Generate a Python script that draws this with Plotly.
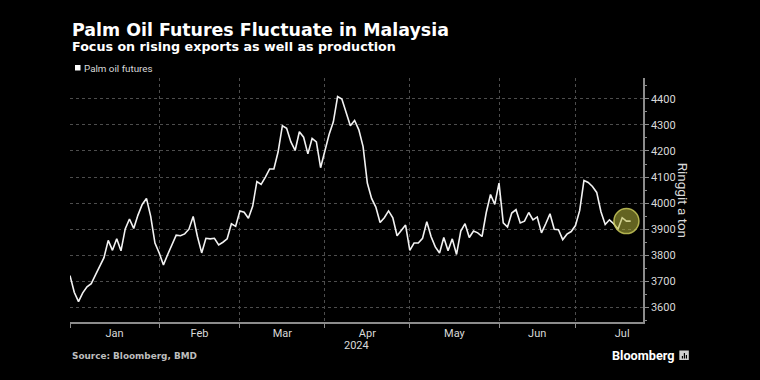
import plotly.graph_objects as go

# ---- data ----
prices = [3722,3658,3622,3656,3679,3691,3725,3757,3791,3857,
          3819,3863,3817,3901,3939,3903,3954,3995,4018,3949,
          3847,3809,3763,3803,3841,3877,3875,3882,3900,3949,
          3872,3809,3865,3863,3865,3840,3850,3863,3921,3911,
          3970,3965,3942,3988,4083,4072,4100,4131,4131,4197,
          4297,4287,4235,4202,4274,4253,4189,4248,4235,4136,
          4200,4263,4312,4409,4399,4345,4297,4317,4281,4217,
          4077,4018,3985,3926,3944,3970,3944,3875,3895,3916,
          3819,3847,3847,3865,3929,3872,3832,3809,3868,3817,
          3863,3803,3893,3921,3868,3893,3886,3872,3964,4033,
          3995,4077,3924,3908,3962,3975,3924,3931,3964,3936,
          3947,3886,3921,3959,3900,3898,3860,3881,3891,3914,
          3972,4087,4079,4064,4041,3967,3918,3936,3921,3900,
          3944,3931,3931]
trading_day = list(range(len(prices)))

# trading-day index at which each month starts (Jan..Aug 2024)
month_start = [0, 21, 40, 60, 80, 101, 119, 141]
month_labels = ["Jan", "Feb", "Mar", "Apr", "May", "Jun", "Jul"]
year_label = "2024"
y_ticks = [3600, 3700, 3800, 3900, 4000, 4100, 4200, 4300, 4400]
highlight_day = 131

label_pos = [(a + b) / 2 for a, b in zip(month_start[:-1], month_start[1:])]

BG = "#000000"
GRID = "#4d4d4d"
AXIS = "#8c8c8c"
TXT = "#d9d9d9"

fig = go.Figure()
fig.add_trace(go.Scatter(
    x=trading_day, y=prices, mode="lines",
    line=dict(color="#f2f2f2", width=1.6),
    name="Palm oil futures", showlegend=False, hoverinfo="skip"))
fig.add_trace(go.Scatter(
    x=[trading_day[highlight_day]], y=[prices[highlight_day]], mode="markers",
    marker=dict(size=25, color="rgba(180,180,60,0.55)",
                line=dict(color="rgba(200,200,90,0.85)", width=1.5)),
    showlegend=False, hoverinfo="skip"))

fig.update_layout(
    width=760, height=380,
    paper_bgcolor=BG, plot_bgcolor=BG,
    margin=dict(l=70, r=117, t=78, b=58),
    font=dict(family="Roboto", color=TXT, size=11),
    showlegend=False,
)

fig.update_xaxes(
    range=[0, 134.9],
    tickmode="array", tickvals=label_pos, ticktext=month_labels,
    ticks="", showgrid=False,
    tickfont=dict(family="Roboto", size=11, color=TXT),
    showline=True, linecolor=AXIS, linewidth=1.5,
    zeroline=False,
    minor=dict(tickmode="array", tickvals=month_start[:-1], ticks="outside",
               ticklen=4, tickcolor=AXIS, tickwidth=1,
               showgrid=True, gridcolor=GRID, griddash="dot", gridwidth=1),
)

fig.update_yaxes(
    range=[3544, 4480], side="right",
    tickmode="array", tickvals=y_ticks,
    ticks="outside", ticklen=4, tickcolor=AXIS, tickwidth=1,
    showgrid=True, gridcolor=GRID, griddash="dot", gridwidth=1,
    showline=True, linecolor=AXIS, linewidth=1.5,
    zeroline=False,
    tickfont=dict(family="Roboto", size=11, color=TXT),
    minor=dict(dtick=50, tick0=3550, ticks="outside", ticklen=2,
               tickcolor=AXIS, showgrid=False),
)

def py(ypx):
    return (322 - ypx) / 244.0

def px(xpx):
    return (xpx - 70) / 572.7

ann = [
    dict(text="Palm Oil Futures Fluctuate in Malaysia", x=0, y=py(29.5),
         font=dict(family="DejaVu Sans", size=17.4, color="#ffffff", weight="bold")),
    dict(text="Focus on rising exports as well as production", x=0, y=py(46.5),
         font=dict(family="DejaVu Sans", size=12.7, color="#ffffff", weight="bold")),
    dict(text="Palm oil futures", x=px(82), y=py(68),
         font=dict(family="Roboto", size=9.8, color=TXT)),
    dict(text="Source: Bloomberg, BMD", x=0, y=py(356),
         font=dict(family="DejaVu Sans", size=8.9, color="#bdbdbd", weight="bold")),
    dict(text="Bloomberg", x=px(610), y=py(355.5),
         font=dict(family="Roboto", size=12.7, color="#ffffff", weight="bold")),
]
annotations = []
for a in ann:
    a.update(xref="paper", yref="paper", xanchor="left", yanchor="middle",
             showarrow=False)
    annotations.append(a)
annotations.append(dict(text="Ringgit a ton", xref="paper", yref="paper",
                        x=px(683), y=0.5, textangle=90, showarrow=False,
                        xanchor="center", yanchor="middle",
                        font=dict(family="Roboto", size=13.5, color=TXT)))
annotations.append(dict(text=year_label, xref="x", yref="paper",
                        x=67.4, y=py(345), showarrow=False,
                        xanchor="center", yanchor="middle",
                        font=dict(family="Roboto", size=11, color=TXT)))
fig.update_layout(annotations=annotations)

shapes = [
    dict(type="rect", xref="paper", yref="paper",
         x0=px(75), x1=px(80.5), y0=py(70.5), y1=py(65),
         fillcolor="#ffffff", line=dict(width=0)),
    dict(type="rect", xref="paper", yref="paper",
         x0=px(679), x1=px(688.5), y0=py(360), y1=py(350.5),
         fillcolor="#cfcfcf", line=dict(width=0)),
]
for bx, top in [(681.5, 356), (683.5, 353), (685.5, 355)]:
    shapes.append(dict(type="rect", xref="paper", yref="paper",
                       x0=px(bx), x1=px(bx + 1.2), y0=py(358.5), y1=py(top),
                       fillcolor="#000000", line=dict(width=0)))
fig.update_layout(shapes=shapes)

fig.write_html(
    "out.html",
    config={"displayModeBar": False},
    post_script="document.body.style.margin='0';document.body.style.background='#000';",
)
